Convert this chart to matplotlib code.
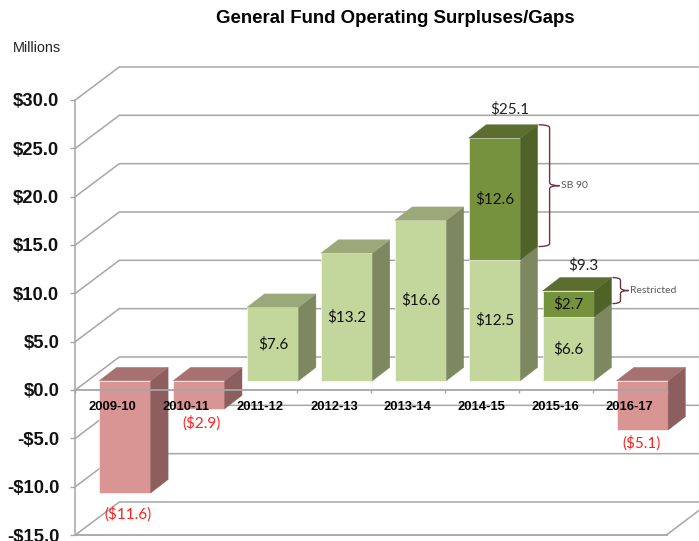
import matplotlib
matplotlib.use("Agg")
import matplotlib.pyplot as plt
from matplotlib.patches import PathPatch
from matplotlib.path import Path

# Values in $ millions
years = ['2009-10', '2010-11', '2011-12', '2012-13', '2013-14', '2014-15', '2015-16', '2016-17']
base = [-11.6, -2.9, 7.6, 13.2, 16.6, 12.5, 6.6, -5.1]
extra = [0, 0, 0, 0, 0, 12.6, 2.7, 0]
totals = {5: 25.1, 6: 9.3}
brace_labels = {5: 'SB 90', 6: 'Restricted'}
yticks = [30, 25, 20, 15, 10, 5, 0, -5, -10, -15]

W, H = 699, 541
PX_X = 73.9    # px per category
PX_Y = 9.667   # px per $1M
LEFT = 75.3
ZERO = 390.0

plt.rcParams['font.family'] = ['Liberation Sans', 'DejaVu Sans']

fig = plt.figure(figsize=(W / 100, H / 100), dpi=100)
ax = fig.add_axes([LEFT / W, 0, 1 - LEFT / W, 1])
ax.set_xlim(0, (W - LEFT) / PX_X)
ax.set_ylim(-(H - ZERO) / PX_Y, ZERO / PX_Y)
ax.patch.set_visible(False)


def dx(px):
    return px / PX_X


def dy(px):
    return px / PX_Y


# 3d offsets
wall_x, wall_y = dx(44), dy(33)
shift_x, shift_y = dx(12.8), dy(9.3)
depth_x, depth_y = dx(17.3), dy(13.3)
bar_w = dx(51.5)
grid_col = '#a6a6a6'

# back wall and side wall lines
for t in yticks:
    ax.plot([0, wall_x, ax.get_xlim()[1]], [t, t + wall_y, t + wall_y], color=grid_col,
            lw=1.1, zorder=0.5, solid_joinstyle='miter')
# floor
ax.plot([8, 8 + dx(33)], [-15, -15 + dy(25)], color=grid_col, lw=1.1, zorder=0.5, clip_on=True)

for s in ['top', 'right']:
    ax.spines[s].set_visible(False)
ax.spines['left'].set_bounds(-15, 30)
ax.spines['left'].set_color(grid_col)
ax.spines['left'].set_linewidth(1.1)
ax.spines['bottom'].set_visible(True)
ax.spines['bottom'].set_bounds(0, 8)
ax.spines['bottom'].set_position(('data', 0))
ax.spines['bottom'].set_color(grid_col)
ax.spines['bottom'].set_linewidth(1.3)
ax.plot([0, 8], [-15, -15], color=grid_col, lw=1.3, zorder=0.5)

ax.set_yticks(yticks)
ax.set_yticklabels([('-' if t < 0 else '') + f'${abs(t):.1f}' for t in yticks],
                   fontsize=13.3, fontweight='bold', color='#111111')
ax.tick_params(axis='y', length=3.5, width=1, color=grid_col, pad=8)
ax.set_xticks(range(9))
ax.set_xticklabels([])
ax.set_xticks([i + 0.5 for i in range(8)], years, minor=True, fontsize=9.4, fontweight='bold')
ax.tick_params(axis='x', which='major', length=2.5, width=1, color=grid_col)
ax.tick_params(axis='x', which='minor', length=0, pad=8, labelcolor='black')


def box(x, y0, y1, front, side, top):
    edge = dict(edgecolor='#ffffff', linewidth=0.4)
    ax.bar(x, y1 - y0, bar_w, bottom=y0, align='edge', color=front, zorder=1, **edge)
    x1 = x + bar_w
    hi = max(y0, y1)
    lo = min(y0, y1)
    ax.fill([x1, x1 + depth_x, x1 + depth_x, x1], [lo, lo + depth_y, hi + depth_y, hi],
            color=side, zorder=1, lw=0.3)
    ax.fill([x, x + depth_x, x1 + depth_x, x1], [hi, hi + depth_y, hi + depth_y, hi],
            color=top, zorder=1, lw=0.3)


def brace(x, y0, y1, w, tip):
    mid = (y0 + y1) / 2
    r = dy(3)
    xm = x + w
    verts = [(x, y1), (xm, y1), (xm, y1 - r), (xm, mid + r), (xm, mid), (xm + tip, mid),
             (xm, mid), (xm, mid - r), (xm, y0 + r), (xm, y0), (x, y0)]
    codes = [Path.MOVETO, Path.CURVE3, Path.CURVE3, Path.LINETO, Path.CURVE3, Path.CURVE3,
             Path.CURVE3, Path.CURVE3, Path.LINETO, Path.CURVE3, Path.CURVE3]
    ax.add_patch(PathPatch(Path(verts, codes), fc='none', ec='#76323c', lw=1, zorder=4))


label_font = dict(family=['Lato', 'DejaVu Sans'], ha='center', va='center', zorder=6)
# hand placed red labels in the original: px nudges from the bar centre / bottom
red_nudge = {0: (2.5, 21.5), 1: (2.8, 14), 7: (-0.5, 13)}

for i, (v, e) in enumerate(zip(base, extra)):
    x = i + 0.5 + shift_x - bar_w / 2
    cx = x + bar_w / 2
    if v < 0:
        box(x, shift_y, v + shift_y, '#d99594', '#8c5f5e', '#a67170')
        off_x, off_y = red_nudge[i]
        ax.text(cx + dx(off_x), v + shift_y - dy(off_y), f'(${abs(v):.1f})', color='#ff2020',
                fontsize=11, **label_font)
    else:
        box(x, shift_y, v + shift_y, '#c3d69b', '#7d8861', '#9aa87a')
        ax.text(cx, v / 2 + shift_y, f'${v:.1f}', color='#111111', fontsize=11, **label_font)
    if e > 0:
        y0 = v + shift_y
        box(x, y0, y0 + e, '#76923c', '#4f6228', '#5b6e30')
        ax.text(cx, y0 + e / 2, f'${e:.1f}', color='#111111', fontsize=11, **label_font)
        # total above and brace on the right
        top_y = y0 + e + depth_y
        up = 16 if i == 5 else 12.5
        ax.text(cx + dx(15), top_y + dy(up), f'${totals[i]:.1f}', color='#222222',
                fontsize=11, **label_font)
        w, tip = (dx(11), dx(10)) if i == 5 else (dx(8), dx(8))
        bx = x + bar_w + depth_x + dx(1)
        brace(bx, y0 + depth_y, top_y, w, tip)
        ax.text(bx + w + tip + dx(1.5), (y0 + depth_y + top_y) / 2, brace_labels[i], color='#595959',
                fontsize=7.5, family=['Lato', 'DejaVu Sans'], ha='left', va='center', zorder=6)

fig.text(395.5 / W, 1 - 18.5 / H, 'General Fund Operating Surpluses/Gaps', fontsize=13.4,
         fontweight='bold', ha='center', va='center')
fig.text(13 / W, 1 - 47.5 / H, 'Millions', fontsize=10.4, ha='left', va='center', color='#222222')

fig.savefig('out.png', dpi=100)
